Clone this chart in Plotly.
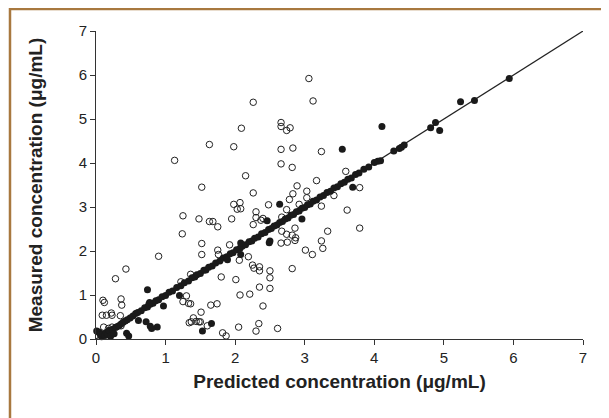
import plotly.graph_objects as go

# open circles: predicted vs measured
open_pred = [3.06, 3.12, 2.26, 2.66, 2.66, 2.79, 2.74, 2.09, 1.63, 1.98, 2.66, 2.83, 3.24,
             2.66, 2.82, 2.15, 1.52, 3.17, 3.59, 3.79, 2.89, 3.03, 3.03, 2.83, 2.78, 3.42, 2.26,
             1.98, 2.07, 2.03, 2.08, 2.48, 2.30, 2.92, 1.25, 1.48, 1.63, 1.68, 1.75, 1.95, 2.26,
             2.30, 2.37, 2.40, 2.67, 2.74, 2.67, 2.74, 2.82, 2.87, 2.86, 2.75, 2.66, 2.86,
             3.33, 3.79, 3.24, 3.26, 3.01, 3.11, 3.61, 3.24, 1.13, 1.24,
             1.52, 1.52, 1.92, 1.75, 1.76, 2.06, 2.19, 2.25, 2.27, 2.35, 2.35, 2.50, 2.50, 2.82,
             1.80, 2.01, 1.36, 0.90, 0.43, 0.28, 1.22, 2.50, 2.35,
             0.10, 0.12, 0.36, 0.37, 0.09, 0.15, 0.22, 0.23, 0.35, 0.11, 0.18, 0.23, 0.36,
             1.30, 1.33, 1.25, 1.36, 2.07, 2.21, 1.65, 1.74, 2.40, 1.51,
             1.40, 1.44, 1.48, 1.34, 1.37, 1.50, 1.60, 1.82, 1.87, 2.05, 2.34, 2.30, 2.61]
open_meas = [5.92, 5.41, 5.38, 4.92, 4.83, 4.80, 4.74, 4.79, 4.42, 4.37, 4.31, 4.34, 4.26,
             3.98, 3.90, 3.71, 3.45, 3.60, 3.81, 3.44, 3.48, 3.36, 3.21, 3.30, 3.17, 3.26, 3.32,
             3.06, 3.10, 2.95, 2.96, 3.05, 2.89, 3.06, 2.80, 2.73, 2.67, 2.67, 2.55, 2.73, 2.60,
             2.76, 2.70, 2.74, 2.77, 2.94, 2.45, 2.38, 2.36, 2.30, 2.24, 2.20, 2.18, 2.52,
             2.45, 2.52, 2.23, 2.06, 2.02, 1.92, 2.93, 3.02, 4.06, 2.39,
             2.17, 1.92, 2.14, 2.02, 1.92, 1.79, 1.87, 1.68, 1.61, 1.64, 1.55, 1.55, 1.39, 1.60,
             1.41, 1.35, 1.47, 1.88, 1.59, 1.37, 1.30, 1.15, 1.18,
             0.88, 0.83, 0.91, 0.77, 0.54, 0.54, 0.59, 0.54, 0.53, 0.27, 0.24, 0.27, 0.30,
             0.98, 0.81, 0.85, 0.80, 1.00, 1.02, 0.77, 0.80, 0.75, 0.61,
             0.48, 0.40, 0.39, 0.37, 0.39, 0.39, 0.30, 0.14, 0.07, 0.27, 0.35, 0.18, 0.24]

# filled circles: predicted vs measured
filled_pred = [0.01, 0.04, 0.06, 0.08, 0.10, 0.13, 0.15, 0.17, 0.19, 0.21, 0.24, 0.26, 0.28,
               0.30, 0.33, 0.36, 0.39, 0.42, 0.45, 0.49, 0.53, 0.57, 0.60, 0.65, 0.70, 0.74,
               0.78, 0.82, 0.86, 0.90, 0.95, 1.00, 1.05, 1.10, 1.16, 1.22, 1.27, 1.33, 1.38,
               1.42, 1.45, 1.50, 1.55, 1.58, 1.62, 1.67, 1.72, 1.78, 1.83, 1.88, 1.93, 1.97,
               2.02, 2.07, 2.10, 2.15, 2.20, 2.24, 2.28, 2.33, 2.38, 2.43, 2.48, 2.52, 2.56,
               2.60, 2.64, 2.68, 2.72, 2.76, 2.80, 2.84, 2.88, 2.92, 2.96, 3.00, 3.04, 3.08,
               3.12, 3.17, 3.22, 3.27, 3.32, 3.37, 3.42, 3.47, 3.52, 3.57, 3.62, 3.67, 3.73,
               3.78, 3.85, 3.92, 4.00, 4.05, 4.09, 4.28, 4.36, 4.39, 4.43, 4.81, 4.88, 5.44, 5.94,
               4.11, 3.54, 3.69, 2.64, 2.96, 2.46, 2.49, 2.50, 2.08, 2.08, 0.74, 1.20, 0.97,
               0.61, 0.72, 0.78, 0.88, 0.80, 0.44, 0.47, 1.53, 1.66, 4.94, 5.24, 1.89, 0.76, 0.77]
filled_meas = [0.18, 0.16, 0.10, 0.05, 0.12, 0.08, 0.15, 0.10, 0.20, 0.06, 0.22, 0.12, 0.26,
               0.28, 0.30, 0.34, 0.38, 0.41, 0.44, 0.48, 0.52, 0.58, 0.60, 0.64, 0.71, 0.73,
               0.79, 0.81, 0.87, 0.89, 0.96, 0.99, 1.06, 1.09, 1.17, 1.21, 1.28, 1.32, 1.39,
               1.41, 1.46, 1.49, 1.56, 1.57, 1.63, 1.66, 1.73, 1.77, 1.84, 1.87, 1.94, 1.96,
               2.03, 2.06, 2.11, 2.14, 2.21, 2.23, 2.29, 2.32, 2.39, 2.42, 2.49, 2.51, 2.57,
               2.59, 2.65, 2.67, 2.73, 2.75, 2.81, 2.83, 2.89, 2.91, 2.97, 2.99, 3.05, 3.07,
               3.13, 3.16, 3.23, 3.26, 3.33, 3.36, 3.43, 3.46, 3.53, 3.56, 3.63, 3.66, 3.74,
               3.77, 3.86, 3.91, 4.01, 4.04, 4.05, 4.27, 4.33, 4.36, 4.41, 4.80, 4.92, 5.42, 5.92,
               4.83, 4.31, 3.45, 3.06, 2.73, 2.69, 2.19, 2.23, 2.18, 1.92, 1.12, 0.99, 0.75,
               0.42, 0.39, 0.29, 0.27, 0.24, 0.13, 0.07, 0.18, 0.35, 4.74, 5.39, 1.80, 0.79, 0.83]

identity = [0, 7]
ticks = [0, 1, 2, 3, 4, 5, 6, 7]

fig = go.Figure()
fig.add_trace(go.Scatter(x=identity, y=identity, mode='lines',
                         line=dict(color='#222222', width=1.2), cliponaxis=False))
fig.add_trace(go.Scatter(x=open_pred, y=open_meas, mode='markers', cliponaxis=False,
                         marker=dict(symbol='circle-open', size=6.5, color='#222222',
                                     line=dict(width=1, color='#222222'))))
fig.add_trace(go.Scatter(x=filled_pred, y=filled_meas, mode='markers', cliponaxis=False,
                         marker=dict(symbol='circle', size=7, color='#1a1a1a')))

axis_common = dict(range=[0, 7], tickvals=ticks, showgrid=False, zeroline=False,
                   showline=True, linecolor='#333333', linewidth=1, automargin=False,
                   ticks='outside', ticklen=5, tickcolor='#333333',
                   tickfont=dict(family='Liberation Sans', size=15, color='#222222'))

title_font = dict(family='Liberation Sans', size=19, color='#222222', weight='bold')
fig.update_xaxes(title=dict(text='Predicted concentration (μg/mL)', standoff=9,
                            font=title_font), **axis_common)
fig.update_yaxes(title=dict(text='Measured concentration (μg/mL)', standoff=31,
                            font=title_font), **axis_common)

# brown frame round the figure (left edge kept just inside the svg)
fig.add_shape(type='rect', xref='paper', yref='paper', x0=-0.1766, x1=1.0431,
              y0=-0.30, y1=1.0714, line=dict(color='#a8783f', width=2.5))

# the page body adds about 7px offset, so margins are trimmed to compensate
fig.update_layout(width=609, height=418, showlegend=False,
                  plot_bgcolor='white', paper_bgcolor='white',
                  margin=dict(l=88, r=34, t=23, b=87))

fig.write_html("out.html")
